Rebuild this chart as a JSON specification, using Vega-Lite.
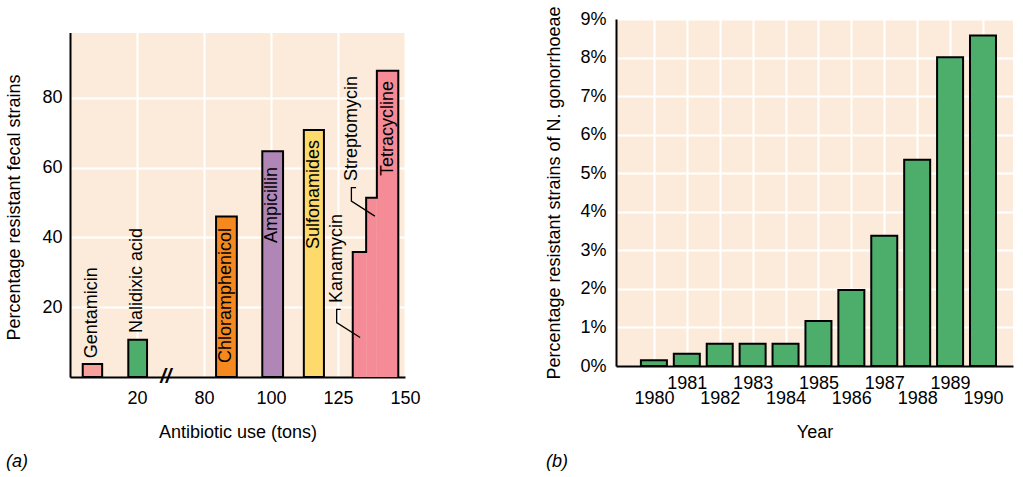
{
  "$schema": "https://vega.github.io/schema/vega-lite/v6.json",
  "padding": {"left": 5, "top": 5, "right": 5, "bottom": 5},
  "spacing": 124,
  "config": {
    "font": "Liberation Sans",
    "view": {"stroke": null, "fill": "#FCEBDA"},
    "axis": {
      "domainColor": "black",
      "domainWidth": 2,
      "ticks": false,
      "gridColor": "white",
      "gridWidth": 2,
      "gridOpacity": 1,
      "labelFont": "Liberation Sans",
      "labelFontSize": 18,
      "labelColor": "black",
      "titleFont": "Liberation Sans",
      "titleFontSize": 18,
      "titleFontWeight": "normal",
      "titleColor": "black",
      "labelOverlap": false,
      "labelFlush": false
    },
    "title": {"font": "Liberation Sans", "fontSize": 18, "fontStyle": "italic", "fontWeight": "normal", "color": "black"}
  },
  "datasets": {
    "bars": [
      {"antibiotic": "Gentamicin", "x0": 0.19, "x1": 0.48, "pct": 3.7},
      {"antibiotic": "Nalidixic acid", "x0": 0.87, "x1": 1.15, "pct": 10.7},
      {"antibiotic": "Chloramphenicol", "x0": 2.18, "x1": 2.49, "pct": 46},
      {"antibiotic": "Ampicillin", "x0": 2.87, "x1": 3.18, "pct": 64.7},
      {"antibiotic": "Sulfonamides", "x0": 3.49, "x1": 3.79, "pct": 70.8}
    ],
    "steps": [
      {"antibiotic": "Kanamycin", "x0": 4.22, "x1": 4.42, "pct": 35.8},
      {"antibiotic": "Streptomycin", "x0": 4.42, "x1": 4.58, "pct": 51.4},
      {"antibiotic": "Tetracycline", "x0": 4.58, "x1": 4.9, "pct": 87.8}
    ],
    "outline": [
      {"i": 0, "pos": 4.22, "pct": 0},
      {"i": 1, "pos": 4.22, "pct": 35.8},
      {"i": 2, "pos": 4.42, "pct": 35.8},
      {"i": 3, "pos": 4.42, "pct": 51.4},
      {"i": 4, "pos": 4.58, "pct": 51.4},
      {"i": 5, "pos": 4.58, "pct": 87.8},
      {"i": 6, "pos": 4.9, "pct": 87.8},
      {"i": 7, "pos": 4.9, "pct": 0}
    ],
    "labels": [
      {"name": "Gentamicin", "lx": 0.33, "ly": 5.4},
      {"name": "Nalidixic acid", "lx": 1.0, "ly": 12.6},
      {"name": "Chloramphenicol", "lx": 2.33, "ly": 4.0},
      {"name": "Ampicillin", "lx": 3.02, "ly": 38.4},
      {"name": "Sulfonamides", "lx": 3.64, "ly": 36.7},
      {"name": "Kanamycin", "lx": 3.99, "ly": 21.2},
      {"name": "Streptomycin", "lx": 4.21, "ly": 56.2},
      {"name": "Tetracycline", "lx": 4.75, "ly": 57.6}
    ],
    "leaders": [
      {"name": "Kanamycin", "i": 0, "pos": 4.04, "pct": 19.4},
      {"name": "Kanamycin", "i": 1, "pos": 3.98, "pct": 19.4},
      {"name": "Kanamycin", "i": 2, "pos": 3.98, "pct": 15.6},
      {"name": "Kanamycin", "i": 3, "pos": 4.33, "pct": 11.3},
      {"name": "Streptomycin", "i": 0, "pos": 4.27, "pct": 54.3},
      {"name": "Streptomycin", "i": 1, "pos": 4.2, "pct": 54.3},
      {"name": "Streptomycin", "i": 2, "pos": 4.2, "pct": 50.4},
      {"name": "Streptomycin", "i": 3, "pos": 4.55, "pct": 46.1}
    ],
    "gonorrhoeae": [
      {"year": 1980, "pct": 0.15},
      {"year": 1981, "pct": 0.32},
      {"year": 1982, "pct": 0.58},
      {"year": 1983, "pct": 0.58},
      {"year": 1984, "pct": 0.58},
      {"year": 1985, "pct": 1.17},
      {"year": 1986, "pct": 1.97},
      {"year": 1987, "pct": 3.38},
      {"year": 1988, "pct": 5.35},
      {"year": 1989, "pct": 8.01},
      {"year": 1990, "pct": 8.57}
    ]
  },
  "hconcat": [
    {
      "width": 335,
      "height": 358,
      "title": {"text": "(a)", "orient": "bottom", "anchor": "start", "frame": "bounds", "offset": 12},
      "layer": [
        {
          "data": {"values": [{}]},
          "mark": {"type": "rect", "fill": "white", "strokeWidth": 0},
          "encoding": {
            "x": {"datum": -0.06, "type": "quantitative"},
            "x2": {"datum": 5.06},
            "y": {"datum": 98.6, "type": "quantitative"},
            "y2": {"datum": 103}
          }
        },
        {
          "data": {"name": "bars"},
          "mark": {"type": "rect", "stroke": "black", "strokeWidth": 2},
          "encoding": {
            "x": {"field": "x0", "type": "quantitative", "scale": {"domain": [0, 5], "nice": false, "zero": false},
              "axis": {"values": [1, 2, 3, 4, 5], "labelExpr": "['','20','80','100','125','150'][datum.value]", "grid": true, "labelPadding": 12, "titlePadding": 16},
              "title": "Antibiotic use (tons)"},
            "x2": {"field": "x1"},
            "y": {"field": "pct", "type": "quantitative", "scale": {"domain": [0, 102.61], "nice": false},
              "axis": {"values": [20, 40, 60, 80], "grid": true, "labelPadding": 8, "titlePadding": 18, "titleY": 188},
              "title": "Percentage resistant fecal strains"},
            "y2": {"datum": 0},
            "fill": {"field": "antibiotic", "type": "nominal", "legend": null,
              "scale": {"domain": ["Gentamicin", "Nalidixic acid", "Chloramphenicol", "Ampicillin", "Sulfonamides", "Kanamycin", "Streptomycin", "Tetracycline"],
                "range": ["#F5A09A", "#4DAE6C", "#F5891F", "#B086B6", "#FDDA6B", "#F48B96", "#F48B96", "#F48B96"]}}
          }
        },
        {
          "data": {"name": "steps"},
          "mark": {"type": "rect", "strokeWidth": 0},
          "encoding": {
            "x": {"field": "x0", "type": "quantitative"},
            "x2": {"field": "x1"},
            "y": {"field": "pct", "type": "quantitative"},
            "y2": {"datum": 0},
            "fill": {"field": "antibiotic", "type": "nominal", "legend": null}
          }
        },
        {
          "data": {"name": "outline"},
          "mark": {"type": "line", "color": "black", "strokeWidth": 2},
          "encoding": {
            "x": {"field": "pos", "type": "quantitative"},
            "y": {"field": "pct", "type": "quantitative"},
            "order": {"field": "i", "type": "quantitative"}
          }
        },
        {
          "data": {"name": "leaders"},
          "mark": {"type": "line", "color": "black", "strokeWidth": 1.3},
          "encoding": {
            "x": {"field": "pos", "type": "quantitative"},
            "y": {"field": "pct", "type": "quantitative"},
            "detail": {"field": "name", "type": "nominal"},
            "order": {"field": "i", "type": "quantitative"}
          }
        },
        {
          "data": {"name": "labels"},
          "mark": {"type": "text", "angle": 270, "align": "left", "baseline": "middle", "fontSize": 18, "color": "black", "font": "Liberation Sans"},
          "encoding": {
            "x": {"field": "lx", "type": "quantitative"},
            "y": {"field": "ly", "type": "quantitative"},
            "text": {"field": "name", "type": "nominal"}
          }
        },
        {
          "data": {"values": [{"pos": 1.43, "pct": 0, "t": "//"}]},
          "mark": {"type": "text", "fontSize": 20, "fontWeight": "bold", "fontStyle": "italic", "baseline": "middle", "align": "center", "color": "black"},
          "encoding": {
            "x": {"field": "pos", "type": "quantitative"},
            "y": {"field": "pct", "type": "quantitative"},
            "text": {"field": "t", "type": "nominal"}
          }
        }
      ]
    },
    {
      "width": 397,
      "height": 347,
      "title": {"text": "(b)", "orient": "bottom", "anchor": "start", "frame": "bounds", "offset": 12},
      "data": {"name": "gonorrhoeae"},
      "mark": {"type": "bar", "width": 26, "fill": "#4DAE6C", "stroke": "black", "strokeWidth": 2},
      "encoding": {
        "x": {"field": "year", "type": "quantitative", "scale": {"domain": [1979, 1990.76], "nice": false, "zero": false},
          "axis": {"values": [1980, 1981, 1982, 1983, 1984, 1985, 1986, 1987, 1988, 1989, 1990], "format": "d",
            "labelExpr": "datum.value % 2 == 1 ? [datum.label, ''] : ['', datum.label]", "labelLineHeight": 15, "labelBaseline": "top",
            "grid": true, "labelPadding": 8, "titlePadding": 16},
          "title": "Year"},
        "y": {"field": "pct", "type": "quantitative", "scale": {"domain": [0, 9], "nice": false},
          "axis": {"values": [0, 1, 2, 3, 4, 5, 6, 7, 8, 9], "labelExpr": "datum.value + '%'", "grid": true, "labelPadding": 10, "titlePadding": 16},
          "title": "Percentage resistant strains of N. gonorrhoeae"}
      }
    }
  ]
}
